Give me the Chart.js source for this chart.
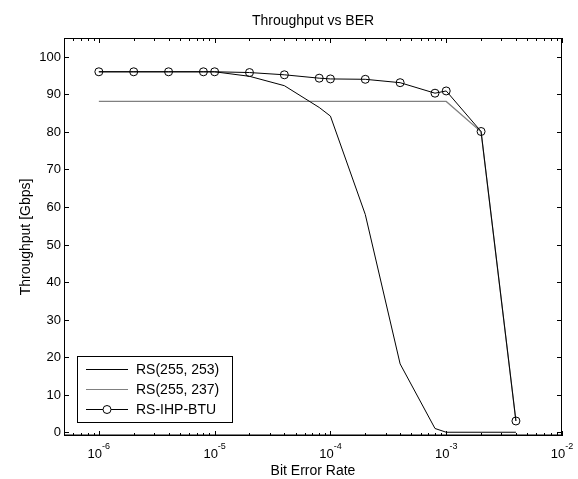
<!DOCTYPE html>
<html>
<head>
<meta charset="utf-8">
<script src="https://cdn.jsdelivr.net/npm/chart.js@4.4.1/dist/chart.umd.min.js"></script>
<style>
html,body{margin:0;padding:0;background:#fff;}
#wrap{width:578px;height:479px;}
</style>
</head>
<body>
<div id="wrap"><canvas id="c" width="578" height="479"></canvas></div>
<script>
// ---- data ----
const berValues = [1e-6, 2e-6, 4e-6, 8e-6, 1e-5, 2e-5, 4e-5, 8e-5, 1e-4, 2e-4, 4e-4, 8e-4, 1e-3, 2e-3, 4e-3];
const rs253 = [96, 96, 96, 96, 96, 94.8, 92.3, 86.5, 84.2, 58, 18.2, 1, 0, 0, 0];
const rs237 = [88.1, 88.1, 88.1, 88.1, 88.1, 88.1, 88.1, 88.1, 88.1, 88.1, 88.1, 88.1, 88.1, 80, 3];
const rsIhp = [96, 96, 96, 96, 96, 95.8, 95.2, 94.3, 94.1, 94, 93.1, 90.3, 90.9, 80.1, 3];
const seriesNames = ['RS(255, 253)', 'RS(255, 237)', 'RS-IHP-BTU'];
const yTickValues = [0, 10, 20, 30, 40, 50, 60, 70, 80, 90, 100];
const yTickLabels = ['0', '10', '20', '30', '40', '50', '60', '70', '80', '90', '100'];
const xTickValues = [1e-6, 1e-5, 1e-4, 1e-3, 1e-2];
const xTickExponents = ['-6', '-5', '-4', '-3', '-2'];
const titleText = 'Throughput vs BER';
const xTitle = 'Bit Error Rate';
const yTitle = 'Throughput [Gbps]';

const toPts = arr => berValues.map((x, i) => ({x: x, y: arr[i]}));
const FONT = '"Liberation Sans", Arial, Helvetica, sans-serif';

const decor = {
  id: 'decor',
  afterDatasetsDraw(chart) {
    const ctx = chart.ctx;
    const a = chart.chartArea;
    const xs = chart.scales.x, ys = chart.scales.y;
    ctx.save();
    ctx.strokeStyle = '#000';
    ctx.lineWidth = 1;
    // box
    ctx.strokeRect(Math.round(a.left) + 0.5, Math.round(a.top) + 0.5,
                   Math.round(a.right - a.left) - 1, Math.round(a.bottom - a.top) - 1);
    // y ticks
    ctx.beginPath();
    yTickValues.forEach(v => {
      const py = Math.round(ys.getPixelForValue(v)) + 0.5;
      ctx.moveTo(a.left, py); ctx.lineTo(a.left + 5, py);
      ctx.moveTo(a.right, py); ctx.lineTo(a.right - 5, py);
    });
    // x ticks (major + minor)
    const minE = Math.floor(Math.log10(xs.min)), maxE = Math.ceil(Math.log10(xs.max));
    for (let e = minE; e <= maxE; e++) {
      for (let m = 1; m <= 9; m++) {
        const v = m * Math.pow(10, e);
        if (v < xs.min * 0.999 || v > xs.max * 1.001) continue;
        const px = Math.round(xs.getPixelForValue(v)) + 0.5;
        const len = m === 1 ? 5 : 3;
        ctx.moveTo(px, a.bottom); ctx.lineTo(px, a.bottom - len);
        ctx.moveTo(px, a.top); ctx.lineTo(px, a.top + len);
      }
    }
    ctx.stroke();
    // bottom axis slightly heavier
    ctx.lineWidth = 1.5;
    ctx.beginPath();
    ctx.moveTo(a.left, a.bottom - 0.75); ctx.lineTo(a.right, a.bottom - 0.75);
    ctx.stroke();

    ctx.fillStyle = '#000';
    // y tick labels
    ctx.font = '13px ' + FONT;
    ctx.textAlign = 'right';
    ctx.textBaseline = 'middle';
    yTickValues.forEach((v, i) => {
      ctx.fillText(yTickLabels[i], a.left - 3, ys.getPixelForValue(v) + 0.5);
    });
    // x tick labels with superscript
    xTickValues.forEach((v, i) => {
      const px = xs.getPixelForValue(v);
      ctx.font = '13px ' + FONT;
      const w1 = ctx.measureText('10').width;
      ctx.font = '9px ' + FONT;
      const w2 = ctx.measureText(xTickExponents[i]).width;
      const left = px - (w1 + w2) / 2;
      ctx.textAlign = 'left';
      ctx.textBaseline = 'alphabetic';
      ctx.font = '13px ' + FONT;
      ctx.fillText('10', left, a.bottom + 22);
      ctx.font = '9px ' + FONT;
      ctx.fillText(xTickExponents[i], left + w1, a.bottom + 13);
    });
    // titles
    ctx.font = '14px ' + FONT;
    ctx.textAlign = 'center';
    ctx.textBaseline = 'middle';
    ctx.fillText(xTitle, (a.left + a.right) / 2, a.bottom + 35);
    ctx.fillText(titleText, (a.left + a.right) / 2, 21);
    ctx.save();
    ctx.translate(26, (a.top + a.bottom) / 2);
    ctx.rotate(-Math.PI / 2);
    ctx.fillText(yTitle, 0, 0);
    ctx.restore();

    // legend
    const lx = 77, ly = 356, lw = 155, lh = 66;
    ctx.fillStyle = '#fff';
    ctx.fillRect(lx, ly, lw, lh);
    ctx.lineWidth = 1;
    ctx.strokeStyle = '#000';
    ctx.strokeRect(lx + 0.5, ly + 0.5, lw, lh);
    ctx.font = '14px ' + FONT;
    ctx.textAlign = 'left';
    ctx.textBaseline = 'middle';
    chart.data.datasets.forEach((ds, i) => {
      const cy = ly + 13.5 + i * 20;
      ctx.strokeStyle = ds.borderColor;
      ctx.lineWidth = 1;
      ctx.beginPath();
      ctx.moveTo(lx + 9, cy); ctx.lineTo(lx + 51, cy);
      ctx.stroke();
      if (ds.pointRadius > 0) {
        ctx.fillStyle = '#fff';
        ctx.beginPath();
        ctx.arc(lx + 30, cy, ds.pointRadius, 0, Math.PI * 2);
        ctx.fill();
        ctx.stroke();
      }
      ctx.fillStyle = '#000';
      ctx.fillText(ds.label, lx + 59, cy + 0.5);
    });
    ctx.restore();
  }
};

new Chart(document.getElementById('c'), {
  type: 'line',
  data: {
    datasets: [
      {label: seriesNames[0], data: toPts(rs253), borderColor: '#000', borderWidth: 1, pointRadius: 0, fill: false, tension: 0, order: 2},
      {label: seriesNames[1], data: toPts(rs237), borderColor: '#808080', borderWidth: 1.2, pointRadius: 0, fill: false, tension: 0, order: 3},
      {label: seriesNames[2], data: toPts(rsIhp), borderColor: '#000', borderWidth: 1, pointRadius: 4, pointBorderWidth: 1,
       pointBackgroundColor: 'rgba(0,0,0,0)', pointBorderColor: '#000', pointStyle: 'circle', fill: false, tension: 0, order: 1}
    ]
  },
  options: {
    responsive: false,
    animation: false,
    devicePixelRatio: 1,
    layout: {padding: {left: 64, top: 38, right: 16, bottom: 43}},
    plugins: {legend: {display: false}, title: {display: false}, tooltip: {enabled: false}},
    scales: {
      x: {type: 'logarithmic', min: 5e-7, max: 1e-2, display: false},
      y: {type: 'linear', min: -1, max: 105, display: false}
    }
  },
  plugins: [decor]
});
</script>
</body>
</html>
